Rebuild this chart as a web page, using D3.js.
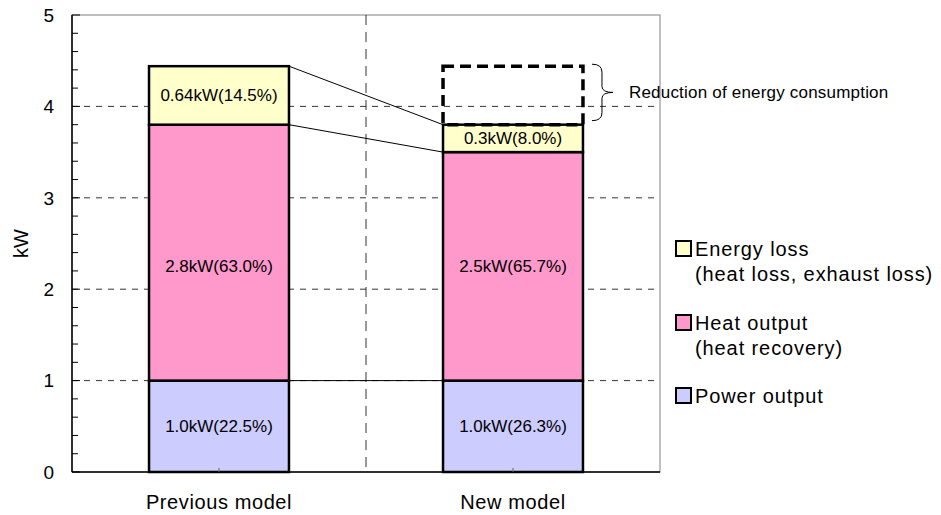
<!DOCTYPE html>
<html>
<head>
<meta charset="utf-8">
<script src="https://cdn.jsdelivr.net/npm/d3@7"></script>
<style>
  body { margin: 0; background: #fff; }
  svg text { font-family: "Liberation Sans", Arial, sans-serif; fill: #000; }
</style>
</head>
<body>
<div id="chart"></div>
<script>
// data
const categories = ["Previous model", "New model"];
const powerOutput = [1.0, 1.0];
const heatOutput = [2.8, 2.5];
const energyLoss = [0.64, 0.3];
const powerLabels = ["1.0kW(22.5%)", "1.0kW(26.3%)"];
const heatLabels = ["2.8kW(63.0%)", "2.5kW(65.7%)"];
const lossLabels = ["0.64kW(14.5%)", "0.3kW(8.0%)"];
const yTicks = [0, 1, 2, 3, 4, 5];
const seriesNames = ["Power output", "Heat output", "Energy loss"];
const legendLines = [
  ["Energy loss", "(heat loss, exhaust loss)"],
  ["Heat output", "(heat recovery)"],
  ["Power output"]
];

const width = 941, height = 515;
const margin = { top: 15, right: 281, bottom: 43, left: 72 };
const colors = { "Power output": "#ccccff", "Heat output": "#ff99cc", "Energy loss": "#ffffcc" };

const svg = d3.select("#chart").append("svg")
  .attr("width", width)
  .attr("height", height);

const x = d3.scaleBand()
  .domain(categories)
  .range([margin.left, width - margin.right])
  .paddingInner(0.524)
  .paddingOuter(0.262);

const y = d3.scaleLinear()
  .domain([0, 5])
  .range([height - margin.bottom, margin.top]);

// stacked rows
const rows = categories.map((c, i) => ({
  cat: c,
  "Power output": powerOutput[i],
  "Heat output": heatOutput[i],
  "Energy loss": energyLoss[i]
}));
const stack = d3.stack().keys(seriesNames)(rows);
const labelSets = [powerLabels, heatLabels, lossLabels];

const x0 = margin.left, x1 = width - margin.right;

// plot frame
svg.append("rect")
  .attr("x", x0).attr("y", y(5))
  .attr("width", x1 - x0).attr("height", y(0) - y(5))
  .attr("fill", "none")
  .attr("stroke", "#808080")
  .attr("stroke-width", 1);

// horizontal grid
svg.append("g")
  .selectAll("line")
  .data(yTicks.filter(d => d > 0 && d < 5))
  .join("line")
  .attr("x1", x0).attr("x2", x1)
  .attr("y1", d => y(d)).attr("y2", d => y(d))
  .attr("stroke", "#000")
  .attr("stroke-width", 0.8)
  .attr("stroke-dasharray", "6,6");

// vertical separator
const midX = (x(categories[0]) + x.bandwidth() + x(categories[1])) / 2;
svg.append("line")
  .attr("x1", midX).attr("x2", midX)
  .attr("y1", y(5)).attr("y2", y(0))
  .attr("stroke", "#000")
  .attr("stroke-width", 0.8)
  .attr("stroke-dasharray", "10,7");

// connector lines between bars
const bx1 = x(categories[0]) + x.bandwidth();
const bx2 = x(categories[1]);
stack.forEach(layer => {
  svg.append("line")
    .attr("x1", bx1).attr("y1", y(layer[0][1]))
    .attr("x2", bx2).attr("y2", y(layer[1][1]))
    .attr("stroke", "#000")
    .attr("stroke-width", 1);
});

// heat labels sit on a common row (middle of the shorter heat segment)
const heatRowY = d3.max(stack[1], d => (y(d[0]) + y(d[1])) / 2);

// bars
stack.forEach((layer, li) => {
  const g = svg.append("g");
  g.selectAll("rect")
    .data(layer)
    .join("rect")
    .attr("x", d => x(d.data.cat))
    .attr("y", d => y(d[1]))
    .attr("width", x.bandwidth())
    .attr("height", d => y(d[0]) - y(d[1]))
    .attr("fill", colors[layer.key])
    .attr("stroke", "#000")
    .attr("stroke-width", 2.5);

  g.selectAll("text")
    .data(layer)
    .join("text")
    .attr("x", d => x(d.data.cat) + x.bandwidth() / 2)
    .attr("y", d => layer.key === "Heat output" ? heatRowY : (y(d[0]) + y(d[1])) / 2)
    .attr("dy", "0.35em")
    .attr("text-anchor", "middle")
    .attr("font-size", "17px")
    .text((d, i) => labelSets[li][i]);
});

// reduction box (dashed) on new model
const prevTop = stack[2][0][1];
const newTop = stack[2][1][1];
svg.append("rect")
  .attr("x", x(categories[1]))
  .attr("y", y(prevTop))
  .attr("width", x.bandwidth())
  .attr("height", y(newTop) - y(prevTop))
  .attr("fill", "none")
  .attr("stroke", "#000")
  .attr("stroke-width", 3.5)
  .attr("stroke-dasharray", "11,6");

// brace
const braceX = x(categories[1]) + x.bandwidth() + 9;
const bt = y(prevTop) - 2, bb = y(newTop) - 4, bm = (bt + bb) / 2;
const bw = 10;
svg.append("path")
  .attr("d", `M${braceX},${bt} Q${braceX + bw},${bt} ${braceX + bw},${bt + 8}
    L${braceX + bw},${bm - 6} Q${braceX + bw},${bm} ${braceX + bw + 11},${bm}
    Q${braceX + bw},${bm} ${braceX + bw},${bm + 6}
    L${braceX + bw},${bb - 8} Q${braceX + bw},${bb} ${braceX},${bb}`)
  .attr("fill", "none")
  .attr("stroke", "#000")
  .attr("stroke-width", 1);

svg.append("text")
  .attr("x", braceX + 37)
  .attr("y", bm)
  .attr("dy", "0.35em")
  .attr("font-size", "17px")
  .attr("letter-spacing", "0.2px")
  .text("Reduction of energy consumption");

// y axis
const yAxis = svg.append("g");
yAxis.append("line")
  .attr("x1", x0).attr("x2", x0)
  .attr("y1", y(5)).attr("y2", y(0))
  .attr("stroke", "#000").attr("stroke-width", 1.5);
yAxis.selectAll(".minor")
  .data(d3.range(0, 25).map(i => i * 0.2).filter(v => Math.abs(v - Math.round(v)) > 0.01))
  .join("line")
  .attr("x1", x0).attr("x2", x0 + 6)
  .attr("y1", d => y(d)).attr("y2", d => y(d))
  .attr("stroke", "#000");
yAxis.selectAll(".major")
  .data(yTicks)
  .join("line")
  .attr("x1", x0).attr("x2", x0 + 8)
  .attr("y1", d => y(d)).attr("y2", d => y(d))
  .attr("stroke", "#000");
yAxis.selectAll("text")
  .data(yTicks)
  .join("text")
  .attr("x", x0 - 18)
  .attr("y", d => y(d))
  .attr("dy", "0.36em")
  .attr("text-anchor", "end")
  .attr("font-size", "19px")
  .text(d => d);

svg.append("text")
  .attr("transform", `translate(28,${(y(0) + y(5)) / 2}) rotate(-90)`)
  .attr("text-anchor", "middle")
  .attr("font-size", "20px")
  .text("kW");

// x axis
const xAxis = svg.append("g");
xAxis.append("line")
  .attr("x1", x0).attr("x2", x1)
  .attr("y1", y(0)).attr("y2", y(0))
  .attr("stroke", "#000").attr("stroke-width", 1.5);
xAxis.selectAll("line.tick")
  .data(categories)
  .join("line")
  .attr("class", "tick")
  .attr("x1", d => x(d) + x.bandwidth() / 2).attr("x2", d => x(d) + x.bandwidth() / 2)
  .attr("y1", y(0)).attr("y2", y(0) - 4)
  .attr("stroke", "#666");
xAxis.selectAll("text")
  .data(categories)
  .join("text")
  .attr("x", d => x(d) + x.bandwidth() / 2)
  .attr("y", y(0) + 37)
  .attr("text-anchor", "middle")
  .attr("font-size", "20px")
  .attr("letter-spacing", "0.6px")
  .text(d => d);

// legend
const legendKeys = ["Energy loss", "Heat output", "Power output"];
const legendY = [241, 315, 388];
const legend = svg.append("g");
legendKeys.forEach((k, i) => {
  legend.append("rect")
    .attr("x", 676).attr("y", legendY[i])
    .attr("width", 15).attr("height", 15)
    .attr("fill", colors[k])
    .attr("stroke", "#000")
    .attr("stroke-width", 2);
  legendLines[i].forEach((t, j) => {
    legend.append("text")
      .attr("x", 695)
      .attr("y", legendY[i] + 15 + j * 25)
      .attr("font-size", "20px")
      .attr("letter-spacing", "0.9px")
      .text(t);
  });
});
</script>
</body>
</html>
